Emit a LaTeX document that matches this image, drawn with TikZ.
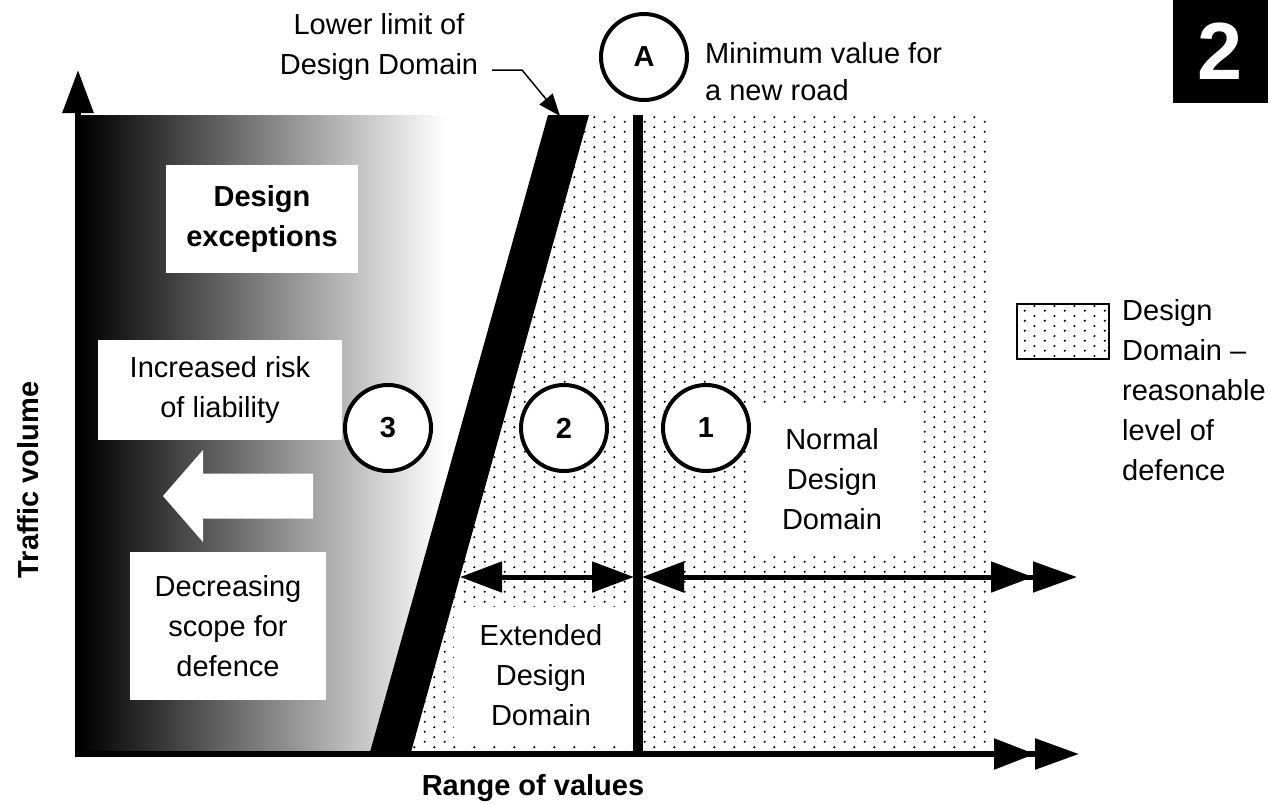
\documentclass[tikz,border=0pt]{standalone}
\usepackage{fontspec}
\setmainfont{Liberation Sans}
\usetikzlibrary{arrows.meta,patterns}
\pgfdeclarepatternformonly{ddots}{\pgfqpoint{0pt}{0pt}}{\pgfqpoint{20pt}{10pt}}{\pgfqpoint{20pt}{10pt}}{%
  \pgfpathcircle{\pgfqpoint{5pt}{2.5pt}}{1.25pt}%
  \pgfpathcircle{\pgfqpoint{15pt}{7.5pt}}{1.25pt}%
  \pgfusepath{fill}}
\begin{document}
\begin{tikzpicture}[x=1pt,y=-1pt,
  txt/.style={font=\fontsize{29}{40}\selectfont, align=center, inner sep=0pt},
  bf/.style={font=\fontsize{29}{40}\selectfont\bfseries, align=center, inner sep=0pt},
  wbox/.style={txt, fill=white},
  num/.style={circle, draw=black, line width=4pt, fill=white, minimum size=86pt, inner sep=0pt, font=\fontsize{29}{34}\selectfont\bfseries},
  thick5/.style={line width=5pt},
  axisline/.style={line width=5.5pt}
]
\useasboundingbox (0,0) rectangle (1271,803);
\fill[white] (0,0) rectangle (1271,803);

% gradient zone
\begin{scope}
  \clip (81,115) -- (548,115) -- (370,752) -- (81,752) -- cycle;
  \shade[left color=black, right color=white] (81,115) rectangle (445,752);
\end{scope}

% dotted design domain
\fill[pattern=ddots] (589,115) -- (987,115) -- (987,752) -- (411,752) -- cycle;

% lower-limit band
\fill[black] (548,115) -- (589,115) -- (411,752) -- (370,752) -- cycle;

% minimum value line
\fill[black] (633,115) rectangle (643,752);

% white boxes
\node[wbox, bf, fill=white, minimum width=192pt, minimum height=108pt] (exc) at (262,219) {Design\\exceptions};
\node[wbox, minimum width=244pt, minimum height=100pt] (risk) at (220,390) {Increased risk\\of liability};
\node[wbox, minimum width=196pt, minimum height=148pt] (scope) at (228,626) {Decreasing\\scope for\\defence};
\node[wbox, minimum width=170pt, minimum height=147pt] (normal) at (832,479.5) {Normal\\Design\\Domain};
\node[wbox, minimum width=174pt, minimum height=137pt] (ext) at (541,675) {Extended\\Design\\Domain};

% white arrow
\fill[white] (163,496) -- (203,450) -- (203,473.5) -- (313,473.5) -- (313,518.5) -- (203,518.5) -- (203,542) -- cycle;

% horizontal range arrows
\coordinate (eL) at (460,577);
\coordinate (eM) at (634,577);
\coordinate (eM2) at (642,577);
\coordinate (eR) at (1077,577);
\draw[thick5, {Triangle[length=42pt,width=30pt,sep=0pt]}-{Triangle[length=42pt,width=30pt,sep=0pt]}] (eL) -- (eM);
\draw[thick5, {Triangle[length=42pt,width=30pt,sep=0pt]}-{Triangle[length=42pt,width=30pt,sep=0pt]Triangle[length=44pt,width=30pt,sep=0pt]}] (eM2) -- (eR);

% circles
\node[num] (c3) at (388,428) {3};
\node[num] (c2) at (564,428) {2};
\node[num] (c1) at (706,428) {1};
\node[num] (cA) at (644,57) {A};

% axes
\coordinate (yb) at (78,757);
\coordinate (yt) at (78,70);
\coordinate (xo) at (75,754);
\coordinate (xt) at (1079,754);
\draw[line width=6pt, -{Triangle[length=43pt,width=30pt,sep=0pt]}] (yb) -- (yt);
\draw[axisline, -{Triangle[length=41pt,width=30pt,sep=0pt]Triangle[length=44pt,width=30pt,sep=0pt]}] (xo) -- (xt);

% labels
\node[txt] (lower) at (379,47) {Lower limit of\\Design Domain};
\coordinate (d0) at (492,70);
\coordinate (d1) at (522,70);
\coordinate (bt) at (560,116);
\draw[line width=1.5pt, -{Triangle[length=22pt,width=17pt]}] (d0) -- (d1) -- (bt);

\node[txt, align=left, anchor=west, font=\fontsize{29}{37}\selectfont] (minv) at (705,72) {Minimum value for\\a new road};

\node[bf] (rng) at (533,788) {Range of values};
\node[bf, rotate=90] (traf) at (28,480) {Traffic volume};

% legend
\node[draw=black, line width=2.5pt, pattern=ddots, minimum width=92pt, minimum height=55pt, inner sep=0pt] (leg) at (1063,331.5) {};
\node[txt, align=left, anchor=west] (legt) at (1122,390) {Design\\Domain –\\reasonable\\level of\\defence};

% chapter tab
\node[fill=black, minimum width=95pt, minimum height=103pt, inner sep=0pt, text=white, font=\fontsize{81}{81}\selectfont\bfseries] (tab) at (1220.5,51.5) {2};
\end{tikzpicture}
\end{document}
